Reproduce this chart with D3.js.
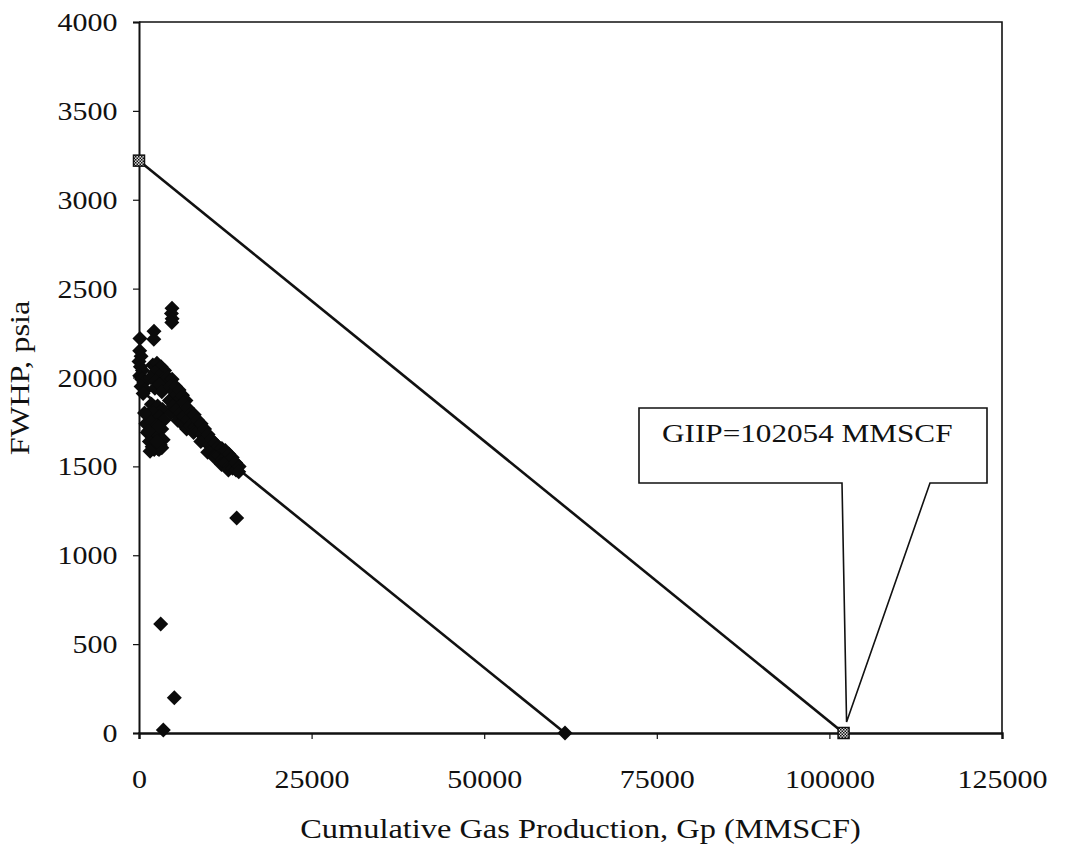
<!DOCTYPE html>
<html>
<head>
<meta charset="utf-8">
<script src="https://cdn.jsdelivr.net/npm/d3@7"></script>
<style>
  body { margin: 0; background: #fff; }
  text { font-family: "Liberation Serif", "Times New Roman", serif; fill: #111; }
</style>
</head>
<body>
<div id="chart"></div>
<script>
// cumulative gas production (MMSCF) and FWHP (psia)
const gp = [4780, 4700, 4800, 4750, 2170, 2150, 140,
    100, 300, 0, 200, 500, 100, 400, 700, 300, 900, 600,
    2000, 2600, 3200, 3700, 2300, 2900, 3500, 1700, 2400,
    2300, 3000, 3300,
    1800, 2700, 3400, 1300, 2100, 3000, 3600, 1000, 1700, 2500, 3300, 1200,
    2000, 2800, 3500, 1500, 2300, 3100, 1900, 2700, 3300, 2200, 2900,
    800, 1400, 2900, 2600, 1600,
    4200, 4800, 4500, 4400, 4600, 5050, 4950, 5500, 5400, 5600, 6000, 5900, 6100,
    5300, 5800, 6300, 6800,
    6500, 6450, 7000, 7100, 6900, 7500, 7450, 8000, 8100, 7900, 8500, 8550,
    9000, 9100, 8950, 9500, 9450, 10000, 10100, 9950, 10500, 10450, 11000,
    11100, 10950, 11500, 11550, 12000, 12100, 11950, 12500, 12450, 13000,
    13100, 12950, 13500, 13550, 14000, 14050, 14500, 14450,
    14150, 3140, 5115, 3520];
const fwhp = [2390, 2360, 2330, 2310, 2260, 2215, 2220,
    2150, 2120, 2090, 2060, 2040, 2010, 1990, 1970, 1950, 1930, 1910,
    2070, 2080, 2060, 2040, 2030, 2010, 1990, 2000, 1980,
    1940, 1960, 1920,
    1850, 1840, 1820, 1790, 1800, 1780, 1760, 1740, 1750, 1730, 1710, 1690,
    1680, 1670, 1650, 1640, 1630, 1620, 1610, 1600, 1605, 1595, 1595,
    1800, 1700, 1720, 1640, 1585,
    2000, 1990, 1950, 1870, 1800, 1920, 1840, 1900, 1820, 1760, 1880, 1800, 1745,
    1950, 1930, 1900, 1870,
    1860, 1780, 1830, 1760, 1710, 1800, 1730, 1790, 1720, 1690, 1760, 1700,
    1740, 1680, 1640, 1710, 1650, 1680, 1620, 1580, 1650, 1590, 1630,
    1570, 1550, 1610, 1560, 1600, 1540, 1510, 1590, 1520, 1570,
    1500, 1480, 1550, 1490, 1520, 1480, 1500, 1470,
    1210, 613, 199, 17];

// straight line through the production data, extrapolated to zero pressure
const fitGp = [0, 61700];
const fitP = [1936, 0];

// material balance line: initial pressure to GIIP
const giipGp = [0, 102054];
const giipP = [3220, 0];
const giipLabel = "GIIP=102054 MMSCF";

const xTicks = [0, 25000, 50000, 75000, 100000, 125000];
const yTicks = [0, 500, 1000, 1500, 2000, 2500, 3000, 3500, 4000];

const W = 1065, H = 853;
const m = { left: 139, right: 1002, top: 22, bottom: 733 };
const stretch = "scale(1.2,1)";

const svg = d3.select("#chart").append("svg")
    .attr("width", W)
    .attr("height", H);

const defs = svg.append("defs");
const pat = defs.append("pattern")
    .attr("id", "hatch")
    .attr("width", 3).attr("height", 3)
    .attr("patternUnits", "userSpaceOnUse");
pat.append("rect").attr("width", 3).attr("height", 3).attr("fill", "#ddd");
pat.append("rect").attr("width", 1.5).attr("height", 1.5).attr("fill", "#111");
pat.append("rect").attr("x", 1.5).attr("y", 1.5).attr("width", 1.5).attr("height", 1.5).attr("fill", "#111");

const x = d3.scaleLinear().domain([0, 125000]).range([m.left, m.right]);
const y = d3.scaleLinear().domain([0, 4000]).range([m.bottom, m.top]);

// top & right frame
svg.append("path")
    .attr("d", `M${m.left},${m.top}H${m.right}V${m.bottom}`)
    .attr("fill", "none")
    .attr("stroke", "#111")
    .attr("stroke-width", 1.6);

const yAxis = svg.append("g")
    .attr("transform", `translate(${m.left},0)`)
    .call(d3.axisLeft(y).tickValues(yTicks).tickSize(6).tickPadding(12).tickFormat(d3.format("d")));
yAxis.select(".domain").attr("stroke", "#111").attr("stroke-width", 2);
yAxis.selectAll(".tick line").attr("stroke", "#111").attr("stroke-width", 1.2);
yAxis.selectAll("text")
    .attr("font-size", 25)
    .attr("dy", "0.34em")
    .attr("transform", stretch);

const xAxis = svg.append("g")
    .attr("transform", `translate(0,${m.bottom})`)
    .call(d3.axisBottom(x).tickValues(xTicks).tickSize(6).tickFormat(d3.format("d")));
xAxis.select(".domain").attr("stroke", "#111").attr("stroke-width", 2.4);
xAxis.selectAll(".tick line").attr("stroke", "#111").attr("stroke-width", 1.2);
xAxis.selectAll("text")
    .attr("font-size", 25)
    .attr("y", 55)
    .attr("dy", 0)
    .attr("transform", stretch);

// axis titles
svg.append("text")
    .attr("transform", `translate(${(m.left + m.right) / 2 + 10},838) ${stretch}`)
    .attr("text-anchor", "middle")
    .attr("font-size", 27)
    .text("Cumulative Gas Production, Gp (MMSCF)");

svg.append("text")
    .attr("transform", `translate(29,378) rotate(-90) ${stretch}`)
    .attr("text-anchor", "middle")
    .attr("font-size", 27)
    .text("FWHP, psia");

const line = d3.line()
    .x(d => x(d[0]))
    .y(d => y(d[1]));

svg.append("path")
    .attr("d", line(d3.zip(giipGp, giipP)))
    .attr("fill", "none")
    .attr("stroke", "#111")
    .attr("stroke-width", 2.6);

svg.append("path")
    .attr("d", line(d3.zip(fitGp, fitP)))
    .attr("fill", "none")
    .attr("stroke", "#111")
    .attr("stroke-width", 2.6);

// callout box pointing at GIIP
const tipX = x(giipGp[1]) + 3, tipY = y(giipP[1]) - 11;
const box = { x0: 639, x1: 987, y0: 408, y1: 483, legL: 842, legR: 930 };
svg.append("path")
    .attr("d", `M${box.x0},${box.y0}H${box.x1}V${box.y1}H${box.legR}L${tipX},${tipY}L${box.legL},${box.y1}H${box.x0}Z`)
    .attr("fill", "#fff")
    .attr("stroke", "#111")
    .attr("stroke-width", 1.6);
svg.append("text")
    .attr("transform", `translate(662,442) ${stretch}`)
    .attr("font-size", 26)
    .text(giipLabel);

const diamond = "M0,-7.5L7.5,0L0,7.5L-7.5,0Z";
const pts = d3.zip(gp, fwhp);

svg.append("g").selectAll("path")
    .data(pts)
    .join("path")
    .attr("d", diamond)
    .attr("transform", d => `translate(${x(d[0])},${y(d[1])})`)
    .attr("fill", "#0b0b0b");

svg.append("path")
    .attr("d", diamond)
    .attr("transform", `translate(${x(fitGp[1])},${y(fitP[1])})`)
    .attr("fill", "#0b0b0b");

svg.append("g").selectAll("rect")
    .data(d3.zip(giipGp, giipP))
    .join("rect")
    .attr("x", d => x(d[0]) - 5.5)
    .attr("y", d => y(d[1]) - 5.5)
    .attr("width", 11)
    .attr("height", 11)
    .attr("fill", "url(#hatch)")
    .attr("stroke", "#111")
    .attr("stroke-width", 1.5);
</script>
</body>
</html>
